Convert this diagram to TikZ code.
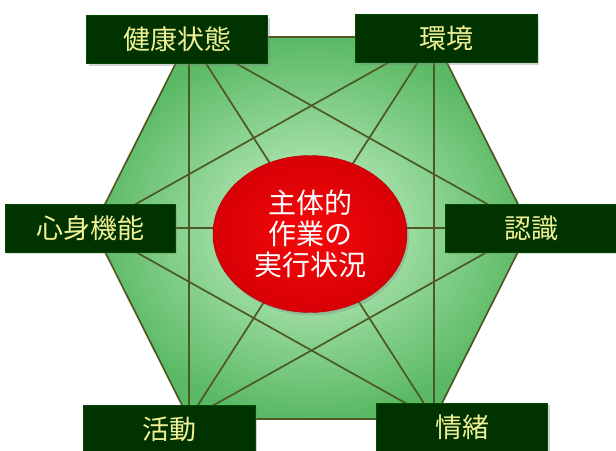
\documentclass[tikz,border=0pt]{standalone}
\usepackage{fontspec}
\setmainfont{Noto Sans CJK JP}
\usetikzlibrary{shapes.geometric, shadows}
\definecolor{boxgreen}{RGB}{0,51,0}
\definecolor{boxtext}{RGB}{240,240,150}
\definecolor{linkolive}{RGB}{78,88,34}
\definecolor{hexinner}{RGB}{205,245,205}
\definecolor{hexouter}{RGB}{90,185,100}
\definecolor{corered}{RGB}{245,10,10}
\definecolor{coredark}{RGB}{215,0,6}

\begin{document}
\begin{tikzpicture}[
    x=1pt, y=-1pt,
    factor/.style={draw=green!30!black, fill=boxgreen, text=boxtext, minimum height=48pt, inner sep=0pt, font=\fontsize{27}{30}\selectfont, drop shadow={opacity=0.35, shadow xshift=2pt, shadow yshift=-2pt}},
    core/.style={ellipse, draw=coredark!80!black, thin, inner color=corered, outer color=coredark, text=white, minimum width=194pt, minimum height=157pt, inner sep=0pt, align=center, font=\fontsize{28}{31}\selectfont, drop shadow={opacity=0.3, shadow xshift=2pt, shadow yshift=-3pt}},
    link/.style={draw=linkolive, line width=1.7pt}
]
\useasboundingbox (0,0) rectangle (616,450);

% corners of the hexagon
\coordinate (A) at (189,37);
\coordinate (B) at (434,37);
\coordinate (C) at (530,228);
\coordinate (D) at (434,419);
\coordinate (E) at (189,419);
\coordinate (F) at (93,228);

\shade[inner color=hexinner, outer color=hexouter] (A) -- (B) -- (C) -- (D) -- (E) -- (F) -- cycle;
\draw[link, line join=round] (A) -- (B) -- (C) -- (D) -- (E) -- (F) -- cycle;
\foreach \u/\v in {A/C, A/D, A/E, B/D, B/E, B/F, C/E, C/F, D/F}
    \draw[link] (\u) -- (\v);

\node[core] (core) at (310,234) {主体的\\作業の\\実行状況};

\node[factor, minimum width=181pt] (health) at (177,39.5) {健康状態};
\node[factor, minimum width=182pt] (env) at (446,38.5) {環境};
\node[factor, minimum width=170pt] (body) at (90,228) {心身機能};
\node[factor, minimum width=171pt] (cognition) at (531,228) {認識};
\node[factor, minimum width=172pt] (activity) at (169,429) {活動};
\node[factor, minimum width=171pt] (emotion) at (462,427) {情緒};

\end{tikzpicture}
\end{document}
